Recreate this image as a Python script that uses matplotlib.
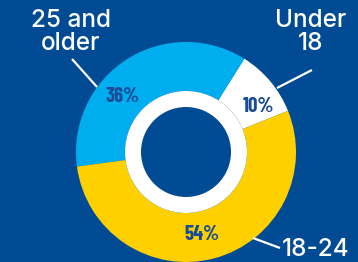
import os
import matplotlib.pyplot as plt
from matplotlib.patches import Circle
from matplotlib import font_manager
from matplotlib.font_manager import FontProperties

# data
groups = ['Under\n18', '25 and\nolder', '18-24']
shares = [10, 36, 54]
colors = ['#ffffff', '#00adee', '#ffd000']

bg = '#004b93'
pct_color = '#1a4c95'


def pick_font(names, weights):
    # static font file only (variable fonts render at default weight)
    for name in names:
        for w in weights:
            for f in font_manager.fontManager.ttflist:
                base = os.path.basename(f.fname)
                if f.name == name and f.weight == w and '[' not in base \
                        and 'Italic' not in base and f.style == 'normal':
                    return FontProperties(fname=f.fname)
    return FontProperties(family='DejaVu Sans', weight='bold')


label_font = pick_font(['Montserrat', 'Inter', 'Lato'], [500, 600])
pct_font = pick_font(['Barlow Condensed', 'Asap Condensed'], [700, 600])

fig = plt.figure(figsize=(3.58, 2.62), dpi=100)
fig.patch.set_facecolor(bg)
ax = fig.add_axes([0, 0, 1, 1])
ax.set_facecolor(bg)

cx, cy, r_out = 186, 110, 110
wedges, _ = ax.pie(shares, colors=colors, startangle=22, counterclock=True,
                   center=(cx, cy), radius=r_out,
                   wedgeprops=dict(width=r_out - 61, linewidth=0))

# white ring + dark hole
ax.add_patch(Circle((cx, cy), 61, color='white', lw=0, zorder=3))
ax.add_patch(Circle((cx, cy), 45, color=bg, lw=0, zorder=4))

# percentage labels (pixel coords, y up)
pct_pos = [(258, 155), (123, 166), (202, 27)]
for (x, y), v in zip(pct_pos, shares):
    ax.text(x, y, f'{v}%', ha='center', va='center', color=pct_color,
            fontproperties=pct_font, fontsize=15, zorder=5)

# group labels with leader lines
lab_pos = [(311, 230), (71, 230), (316, 12)]
lines = [((312, 192), (277, 174)), ((72, 203), (97, 175)), ((280, 14), (253, 24))]
for (x, y), txt, (p0, p1) in zip(lab_pos, groups, lines):
    ax.text(x, y, txt, ha='center', va='center', color='white',
            fontproperties=label_font, fontsize=17.5, linespacing=0.95)
    ax.plot([p0[0], p1[0]], [p0[1], p1[1]], color='white', lw=1.6,
            solid_capstyle='butt', zorder=6)

ax.set_xlim(0, 358)
ax.set_ylim(0, 262)
ax.set_aspect('auto')
ax.axis('off')

fig.savefig('out.png', dpi=100, facecolor=bg)
